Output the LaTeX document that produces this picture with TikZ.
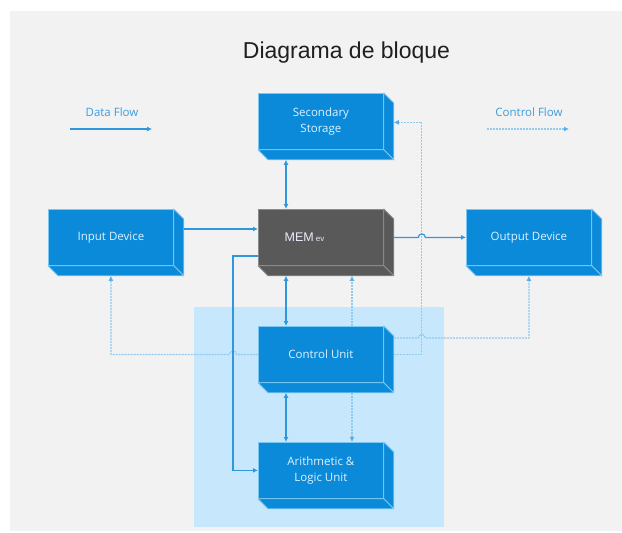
\documentclass[tikz,border=0pt]{standalone}
\usepackage{fontspec}
\setmainfont{Open Sans}
\newfontfamily\titlefont{Liberation Sans}
\usetikzlibrary{arrows.meta,calc}

\definecolor{bggray}{HTML}{F2F2F2}
\definecolor{cpuarea}{HTML}{C7E8FC}
\definecolor{boxblue}{HTML}{0A8AD9}
\definecolor{boxedge}{HTML}{7CC6F2}
\definecolor{memgray}{HTML}{595959}
\definecolor{memedge}{HTML}{8C8C8C}
\definecolor{dataline}{HTML}{2E97DD}
\definecolor{ctrlline}{HTML}{8FCBF0}
\definecolor{ctrltip}{HTML}{5AAEE4}
\definecolor{boxtext}{HTML}{E0F2FF}
\definecolor{legendtext}{HTML}{3D9CE0}

% side and bottom faces of an extruded block
\newcommand\blocksides[2]{%
  \path[#2] (#1.north east) -- ++(10,10) -- ($(#1.south east)+(10,10)$) -- (#1.south east) -- cycle;
  \path[#2] (#1.south west) -- (#1.south east) -- ++(10,10) -- ($(#1.south west)+(10,10)$) -- cycle;
}

\begin{document}
\begin{tikzpicture}[x=1pt,y=-1pt,
  face/.style={fill=boxblue,draw=boxedge,line width=0.8pt,line join=round},
  memface/.style={fill=memgray,draw=memedge,line width=0.8pt,line join=round},
  unit/.style={face,rectangle,anchor=north west,minimum width=125pt,minimum height=56pt,
    inner sep=0pt,text=boxtext,font=\fontsize{11.5}{16}\selectfont,align=center},
  data/.style={draw=dataline,line width=1.2pt},
  ctrl/.style={draw=ctrlline,line width=1.2pt,dash pattern=on 2pt off 1pt},
  tip/.style={-{Latex[length=5pt,width=5pt]}},
  tips/.style={{Latex[length=5pt,width=5pt]}-{Latex[length=5pt,width=5pt]}},
  ctip/.style={-{Latex[length=5pt,width=5pt,color=ctrltip]}},
]
\useasboundingbox (0,0) rectangle (622,533);
\fill[bggray] (10,11) rectangle (622,531);

% processor area
\fill[cpuarea] (194,307) rectangle (444,527);

% title
\node[font=\titlefont\fontsize{23}{27}\selectfont,text=black!88,anchor=base] (title) at (346.5,58) {Diagrama de bloque};

% legend
\node[font=\fontsize{11.5}{14}\selectfont,text=legendtext] (dflabel) at (112,112) {Data Flow};
\coordinate (dfA) at (70,129);
\coordinate (dfB) at (152,129);
\node[font=\fontsize{11.5}{14}\selectfont,text=legendtext] (cflabel) at (529,112) {Control Flow};
\coordinate (cfA) at (487,129);
\coordinate (cfB) at (569,129);

% blocks
\node[unit] (sec) at (258,93) {Secondary\\Storage};
\node[unit] (in) at (48,209) {Input Device};
\node[unit,memface] (mem) at (258,209) {};
\node[unit] (out) at (466,209) {Output Device};
\node[unit] (cu) at (258,326) {Control Unit};
\node[unit] (alu) at (258,442) {Arithmetic \&\\Logic Unit};

\blocksides{sec}{face}
\blocksides{in}{face}
\blocksides{mem}{memface}
\blocksides{out}{face}
\blocksides{cu}{face}
\blocksides{alu}{face}

\node[font=\titlefont\fontsize{12.5}{14}\selectfont,text=white!92!blue] (memtag) at (304.5,237.5)
  {MEM\,{\fontsize{8}{9}\selectfont ev}};

% legend arrows
\draw[data,tip] (dfA) -- (dfB);
\draw[ctrl,ctip] (cfA) -- (cfB);

% control flow
\draw[ctrl,ctip] ($(cu.east)+(10,0)$) -| ($(sec.east)+(38,1)$) -- ($(sec.east)+(10,1)$);
\draw[ctrl,ctip] ($(cu.north east)+(10,12)$) -- ($(cu.north east)+(34.5,12)$)
  arc[start angle=180,end angle=0,radius=3.5pt] -| ($(out.south)+(0,10)$);
\draw[ctrl,ctip] (cu.west) -- ($(cu.west)+(-21.5,0)$)
  arc[start angle=0,end angle=180,radius=3.5pt] -| ($(in.south)+(0,10)$);
\draw[ctrl,ctip] ($(cu.north west)+(94,0)$) -- ($(mem.south west)+(94,10)$);
\draw[ctrl,ctip] ($(cu.south west)+(94,10)$) -- ($(alu.north west)+(94,0)$);

% data flow
\draw[data,tip] ($(in.north east)+(10,20)$) -- ($(mem.north west)+(0,20)$);
\draw[data,tips] ($(sec.south west)+(28,10)$) -- ($(mem.north west)+(28,0)$);
\draw[data,tip] ($(mem.east)+(10,0)$) -- ($(mem.east)+(34.5,0)$)
  arc[start angle=180,end angle=0,radius=3.5pt] -- (out.west);
\draw[data,tips] ($(mem.south west)+(28,10)$) -- ($(cu.north west)+(28,0)$);
\draw[data,tips] ($(cu.south west)+(28,10)$) -- ($(alu.north west)+(28,0)$);
\draw[data,tip] ($(mem.north west)+(0,47)$) -- ++(-25,0) |- (alu.west);
\end{tikzpicture}
\end{document}
